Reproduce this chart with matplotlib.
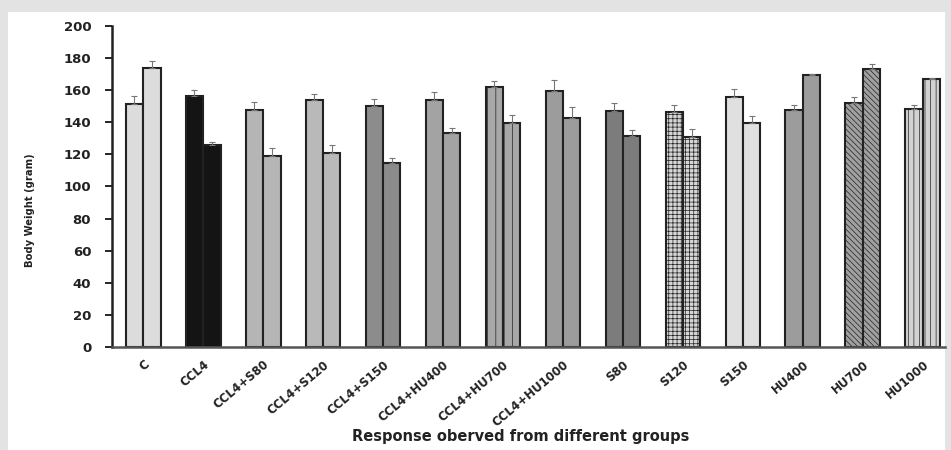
import matplotlib
matplotlib.use("Agg")
import matplotlib.pyplot as plt
import numpy as np
from matplotlib.patches import Rectangle

groups = ["C", "CCL4", "CCL4+S80", "CCL4+S120", "CCL4+S150", "CCL4+HU400",
          "CCL4+HU700", "CCL4+HU1000", "S80", "S120", "S150", "HU400", "HU700", "HU1000"]
before = [151.5, 156.4, 147.7, 153.8, 150.4, 154.0, 161.7, 159.2, 147.3, 146.7, 156.0, 147.7, 152.3, 148.5]
after = [173.7, 125.6, 119.0, 121.0, 114.8, 133.5, 139.8, 142.9, 131.4, 131.0, 139.8, 169.4, 173.1, 166.7]
err_before = [5.0, 4.0, 5.0, 4.0, 4.0, 5.0, 4.0, 7.0, 4.5, 4.0, 4.5, 3.0, 3.5, 2.5]
err_after = [4.5, 2.0, 5.0, 5.0, 3.0, 3.0, 5.0, 6.5, 4.0, 5.0, 4.0, 1.0, 3.5, 1.0]
yticks = [0, 20, 40, 60, 80, 100, 120, 140, 160, 180, 200]

colors = ["#dcdcdc", "#141414", "#b5b5b5", "#b9b9b9", "#8c8c8c", "#a3a3a3", "#a8a8a8",
          "#9c9c9c", "#7c7c7c", "#d6d6d6", "#e0e0e0", "#9c9c9c", "#a0a0a0", "#d2d2d2"]
hatches = ["", "", "", "", "", "", "||", "", "", "++++", "", "", "\\\\\\\\\\\\", "|||"]

plt.rcParams['hatch.color'] = '#7a7a7a'
plt.rcParams['hatch.linewidth'] = 0.5

fig = plt.figure(figsize=(9.51, 4.5), dpi=100, facecolor="#e3e3e3")
bg = Rectangle((8/951, 0), (945-8)/951, 1-12/450, transform=fig.transFigure,
               facecolor="white", edgecolor="none", zorder=-10)
fig.patches.append(bg)
ax = fig.add_axes([112/951, 1-347/450, (945-112)/951, (347-26)/450])
ax.set_zorder(1)
ax.set_facecolor("white")

x = np.arange(len(groups))
w = 0.29
for i in range(len(groups)):
    for off, val, e in ((-w/2, before[i], err_before[i]), (w/2, after[i], err_after[i])):
        ax.bar(x[i]+off, val, width=w, color=colors[i], edgecolor="#222222",
               linewidth=1.5, hatch=hatches[i], zorder=2)
        ax.errorbar(x[i]+off, val, yerr=[[0], [e]], fmt="none", ecolor="#777777",
                    elinewidth=0.8, capsize=2.5, capthick=0.8, zorder=3)

ax.set_xlim(-0.52, 13.37)
ax.set_ylim(0, 200)
ax.set_yticks(yticks)
ax.set_yticklabels([str(t) for t in yticks], fontsize=9.5, fontweight="bold", color="#222222")
ax.set_xticks(x)
ax.set_xticklabels(groups, rotation=40, ha="right", rotation_mode="anchor",
                   fontsize=8.5, fontweight="bold", color="#222222")
ax.tick_params(axis="x", length=0, pad=8)
ax.tick_params(axis="y", length=5, width=1.2, direction="out", pad=10)
for s in ("top", "right"):
    ax.spines[s].set_visible(False)
ax.spines["left"].set_linewidth(1.8)
ax.spines["bottom"].set_linewidth(1.8)
ax.spines["left"].set_color("#222222")
ax.spines["bottom"].set_color("#555555")

fig.text(30/951, 1-210/450, "Body Weight (gram)", rotation=90, ha="center", va="center",
         fontsize=8, fontweight="bold", fontstretch="condensed", family="DejaVu Sans", color="#222222")
fig.text(521/951, 1-437/450, "Response oberved from different groups", ha="center", va="center",
         fontsize=10.5, fontweight="bold", color="#222222")

fig.savefig("out.png", dpi=100, facecolor=fig.get_facecolor())
